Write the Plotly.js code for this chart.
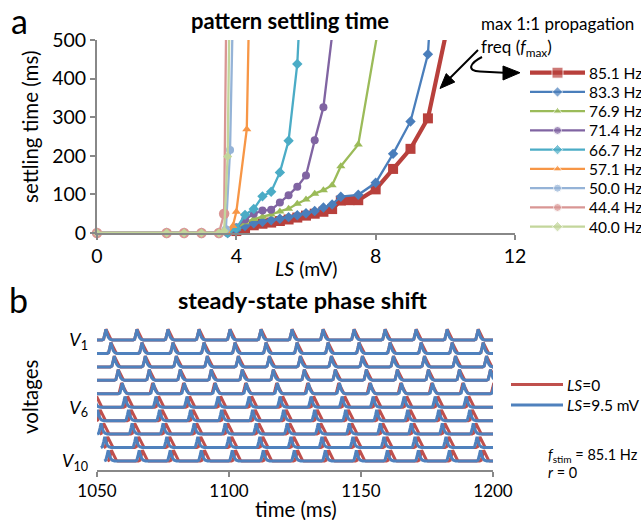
<!DOCTYPE html>
<html><head><meta charset="utf-8">
<script src="https://cdn.plot.ly/plotly-3.0.1.min.js"></script>
<style>html,body{margin:0;padding:0;background:#fff}#chart{width:641px;height:520px}</style>
</head><body><div id="chart"></div>
<script>
// ---------- Panel a: settling time vs LS ----------
const seriesNames = ['85.1 Hz','83.3 Hz','76.9 Hz','71.4 Hz','66.7 Hz','57.1 Hz','50.0 Hz','44.4 Hz','40.0 Hz'];
const seriesColors = ['#B8403C','#4A7EBB','#9BBB59','#8064A2','#4BACC6','#F79646','#95B3D7','#D99694','#C3D69B'];
const seriesSymbols = ['square','diamond','triangle-up','circle','diamond','triangle-up','circle','circle','diamond'];

const ls851 = [4,4.25,4.5,4.75,5,5.25,5.5,5.75,6,6.25,6.5,6.75,7,7.25,7.5,8,8.5,9,9.5,10.5];
const st851 = [5,12,20,24,27,31,35,40,45,50,55,62,84,85,85,113,166,218,297,720];
const ls833 = [0,2,2.5,3,3.5,3.75,4,4.25,4.5,4.75,5,5.25,5.5,5.75,6,6.25,6.5,6.75,7,7.5,8,8.5,9,9.5,10];
const st833 = [0,0,0,0,0,0,8,18,25,29,33,37,41,46,51,57,66,74,94,99,130,205,289,463,1200];
const ls769 = [0,2,2.5,3,3.5,3.75,4,4.25,4.5,4.75,5,5.25,5.5,5.75,6,6.25,6.5,6.75,7,7.5,8.4];
const st769 = [0,0,0,0,0,0,12,28,36,42,48,56,63,76,87,102,111,124,173,229,700];
const ls714 = [0,2,2.5,3,3.5,3.75,4,4.25,4.5,4.75,5,5.25,5.5,5.75,6,6.25,6.5,7];
const st714 = [0,0,0,0,0,0,15,35,50,58,60,79,98,120,149,240,326,700];
const ls667 = [0,2,2.5,3,3.5,3.75,4,4.25,4.5,4.75,5,5.25,5.5,5.75,6];
const st667 = [0,0,0,0,0,0,12,47,62,95,107,157,239,438,900];
const ls571 = [0,2,2.5,3,3.5,3.75,3.9,4,4.3,4.5];
const st571 = [0,0,0,0,0,0,18,55,269,1200];
const ls500 = [0,2,2.5,3,3.5,3.7,3.82,3.95];
const st500 = [0,0,0,0,0,10,215,800];
const ls444 = [0,2,2.5,3,3.5,3.65,3.75];
const st444 = [0,0,0,0,0,50,900];
const ls400 = [0,2,2.5,3,3.5,3.65,3.75,3.85];
const st400 = [0,0,0,0,0,5,198,900];

const seriesX = [ls851,ls833,ls769,ls714,ls667,ls571,ls500,ls444,ls400];
const seriesY = [st851,st833,st769,st714,st667,st571,st500,st444,st400];
const lsTicks = [0,4,8,12];
const stTicks = [0,100,200,300,400,500];

// ---------- Panel b: steady-state phase shift ----------
const rowLabels = ['<i>V</i><sub>1</sub>','<i>V</i><sub>6</sub>','<i>V</i><sub>10</sub>'];
const rowLabelRows = [1,6,10];
const timeTicks = [1050,1100,1150,1200];
const stimPeriod = 11.75;            // ms (85.1 Hz)
// time of first spike peak in the window for each of the 10 cells (ms)
const blueFirstPeak = [1053.4,1055.3,1056.55,1058.05,1059.6,1060.6,1061.95,1063.3,1064.7,1066.0];
const redFirstPeak  = [1053.4,1055.3,1056.55,1058.05,1059.3,1061.6,1062.95,1064.3,1065.8,1067.2];
// spike shape (time relative to peak, ms ; height in row units)
const blueShapeT = [-1.5,-0.9,-0.4,0,0.4,0.9,1.5,2.4];
const blueShapeV = [0,0.06,0.45,0.8,0.48,0.2,0.06,0];
const redShapeT = [-1.5,-0.9,-0.4,0,1.9,2.4];
const redShapeV = [0,0.06,0.45,0.8,0.05,0];

const W = 641, H = 520;
const fx = p => p / W, fy = p => 1 - p / H;

const traces = [];
const markerSizes = [10,8,8,8,8,8,8,10.5,7];
for (let i = 0; i < seriesNames.length; i++) {
  const main = i === 0;
  traces.push({
    type:'scatter', mode:'lines+markers', name:seriesNames[i],
    x:seriesX[i], y:seriesY[i], xaxis:'x', yaxis:'y', cliponaxis:false,
    line:{color:seriesColors[i], width: main ? 4.2 : 2.3},
    marker:{symbol:seriesSymbols[i], color:seriesColors[i], size:markerSizes[i]},
    hoverinfo:'skip'
  });
}

function buildRow(first, shT, shV, base) {
  const xs = [], ys = [];
  for (let n = -1; n < 15; n++) {
    const p = first + n * stimPeriod;
    for (let j = 0; j < shT.length; j++) { xs.push(p + shT[j]); ys.push(base + shV[j]); }
  }
  return {xs, ys};
}
const nRows = blueFirstPeak.length;
for (let k = 0; k < nRows; k++) {
  const r = buildRow(redFirstPeak[k], redShapeT, redShapeV, nRows - 1 - k);
  traces.push({type:'scatter', mode:'lines', x:r.xs, y:r.ys, xaxis:'x2', yaxis:'y2',
    line:{color:'#C0504D', width:3}, hoverinfo:'skip', showlegend:false});
}
for (let k = 0; k < nRows; k++) {
  const b = buildRow(blueFirstPeak[k], blueShapeT, blueShapeV, nRows - 1 - k);
  traces.push({type:'scatter', mode:'lines', x:b.xs, y:b.ys, xaxis:'x2', yaxis:'y2',
    line:{color:'#4F81BD', width:3}, hoverinfo:'skip', showlegend:false});
}

// ---------- hand-made legends (pixel overlay axes x3/y3) ----------
const annotations = [];
const legX0 = 530, legX1 = 585, legY0 = 72.7, legDY = 19.25;
for (let i = 0; i < seriesNames.length; i++) {
  const yy = legY0 + i * legDY, main = i === 0;
  traces.push({type:'scatter', mode:'lines+markers', x:[legX0,(legX0+legX1)/2,legX1], y:[yy,yy,yy],
    xaxis:'x3', yaxis:'y3', hoverinfo:'skip', showlegend:false,
    line:{color:seriesColors[i], width: main ? 4.2 : 2.3},
    marker:{symbol:seriesSymbols[i], color:seriesColors[i], size:[0, main ? 11 : 8, 0]}});
  annotations.push({xref:'x3', yref:'y3', x:legX1+2, y:yy, text:seriesNames[i], showarrow:false,
    xanchor:'left', yanchor:'middle', font:{size:15.5}});
}
const bLegNames = ['<i>LS</i>=0','<i>LS</i>=9.5 mV'];
const bLegColors = ['#C0504D','#4F81BD'];
for (let i = 0; i < 2; i++) {
  const yy = 384.5 + i * 20.5;
  traces.push({type:'scatter', mode:'lines', x:[511,563], y:[yy,yy], xaxis:'x3', yaxis:'y3',
    hoverinfo:'skip', showlegend:false, line:{color:bLegColors[i], width:3}});
  annotations.push({xref:'x3', yref:'y3', x:565, y:yy, text:bLegNames[i], showarrow:false,
    xanchor:'left', yanchor:'middle', font:{size:15.5}});
}

const txt = (x, y, text, size, extra) => Object.assign({xref:'x3', yref:'y3', x, y, text, showarrow:false,
  font:{size}, xanchor:'center', yanchor:'middle'}, extra || {});
annotations.push(txt(19, 20, 'a', 34));
annotations.push(txt(18, 299, 'b', 34));
annotations.push(txt(290, 20, '<b>pattern settling time</b>', 22));
annotations.push(txt(302, 300, '<b>steady-state phase shift</b>', 23.5));
annotations.push(txt(479, 23, 'max 1:1 propagation', 17, {xanchor:'left'}));
annotations.push(txt(479, 48, 'freq (<i>f</i><sub>max</sub>)', 17, {xanchor:'left'}));
annotations.push(txt(546, 455, '<i>f</i><sub>stim</sub> = 85.1 Hz', 14.5, {xanchor:'left'}));
annotations.push(txt(546, 472, '<i>r</i> = 0', 14.5, {xanchor:'left'}));
// axis titles
annotations.push(txt(30, 127, 'settling time (ms)', 20.5, {textangle:-90}));
annotations.push(txt(306, 268, '<i>LS</i> (mV)', 19.5));
annotations.push(txt(30, 397, 'voltages', 20.5, {textangle:-90}));
annotations.push(txt(296, 509, 'time (ms)', 20.5));

const shapes = [
  {type:'line', xref:'x3', yref:'y3', x0:478, y0:50, x1:449, y1:79, line:{color:'#000', width:2}},
  {type:'path', xref:'x3', yref:'y3', path:'M 440,88.5 L 454.8,82 L 446.2,73.6 Z', fillcolor:'#000', line:{color:'#000', width:1}},
  {type:'path', xref:'x3', yref:'y3', path:'M 482,57 C 470,63 466,71 480,71.5 L 504,72.7', line:{color:'#000', width:2}},
  {type:'path', xref:'x3', yref:'y3', path:'M 520,72.7 L 503,66 L 503,80 Z', fillcolor:'#000', line:{color:'#000', width:1}}
];

const axCommon = {showgrid:false, zeroline:false, showline:true, linecolor:'#888', linewidth:2,
  ticks:'outside', ticklen:5, tickwidth:2, tickcolor:'#888', tickfont:{size:16}, fixedrange:true};

const layout = {
  width:W, height:H, margin:{l:0,r:0,t:0,b:0}, showlegend:false,
  paper_bgcolor:'#ffffff', plot_bgcolor:'rgba(0,0,0,0)',
  font:{family:'Lato, "Open Sans", sans-serif', color:'#000', size:16},
  xaxis:Object.assign({}, axCommon, {domain:[fx(97), fx(515)], range:[0,12], anchor:'y',
    tickvals:lsTicks, tickfont:{size:19.5}}),
  yaxis:Object.assign({}, axCommon, {domain:[fy(233), fy(40)], range:[0,500], anchor:'x',
    tickvals:stTicks, tickfont:{size:19.5}}),
  xaxis2:Object.assign({}, axCommon, {domain:[fx(97), fx(493)], range:[1050,1200], anchor:'y2',
    tickvals:timeTicks, tickfont:{size:17}}),
  yaxis2:Object.assign({}, axCommon, {domain:[fy(470), fy(322)], range:[-0.67,10.34], anchor:'x2',
    showline:false, ticks:'', tickvals:rowLabelRows.map(r => nRows - r), ticktext:rowLabels,
    ticklabelstandoff:8, tickfont:{size:18}}),
  xaxis3:{domain:[0,1], range:[0,W], anchor:'y3', visible:false, fixedrange:true},
  yaxis3:{domain:[0,1], range:[H,0], anchor:'x3', visible:false, fixedrange:true},
  annotations, shapes
};

Plotly.newPlot('chart', traces, layout, {staticPlot:true, displayModeBar:false});
</script></body></html>
